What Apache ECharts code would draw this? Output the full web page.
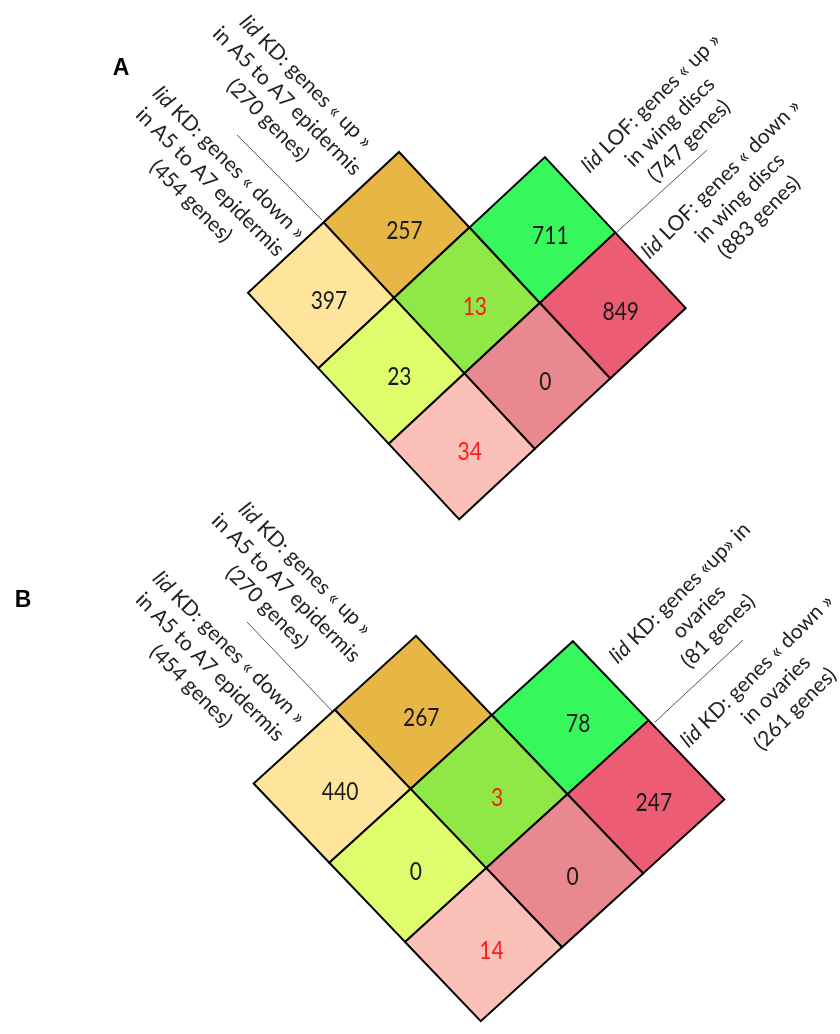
<!DOCTYPE html>
<html>
<head>
<meta charset="utf-8">
<script src="https://cdn.jsdelivr.net/npm/echarts@6/dist/echarts.min.js"></script>
<style>
html,body{margin:0;padding:0;background:#fff;}
#chart{width:840px;height:1034px;}
</style>
</head>
<body>
<div id="chart"></div>
<script>
// ---- data ----
const panelNames = ['A', 'B'];
// grid index of each cell in the rotated grid (i = down-right, j = down-left)
const cellI = [0, 0, 1, 1, 1, 2, 2, 2];
const cellJ = [0, 1, -1, 0, 1, -1, 0, 1];
const valuesA = [257, 397, 711, 13, 23, 849, 0, 34];
const valuesB = [267, 440, 78, 3, 0, 247, 0, 14];
const setLabelsA = [
  ['{i|lid} KD: genes « up »', 'in A5 to A7 epidermis', '(270 genes)'],
  ['{i|lid} KD: genes « down »', 'in A5 to A7 epidermis', '(454 genes)'],
  ['{i|lid} LOF: genes « up »', 'in wing discs', '(747 genes)'],
  ['{i|lid} LOF: genes « down »', 'in wing discs', '(883 genes)']
];
const setLabelsB = [
  ['{i|lid} KD: genes « up »', 'in A5 to A7 epidermis', '(270 genes)'],
  ['{i|lid} KD: genes « down »', 'in A5 to A7 epidermis', '(454 genes)'],
  ['{i|lid} KD: genes «up» in', 'ovaries', '(81 genes)'],
  ['{i|lid} KD: genes « down »', 'in ovaries', '(261 genes)']
];

// ---- styles ----
const cellFill = ['#E8B645', '#FFE59B', '#36F75B', '#8FE845', '#DFFC6C', '#EC5D74', '#E9898F', '#FBC0B8'];
const redText = new Set([3, 7]);
const theta = -2 * Math.PI / 180;
const U = [Math.cos(theta) + Math.sin(theta), Math.sin(theta) - Math.cos(theta)];
const V = [-Math.cos(theta) + Math.sin(theta), -Math.sin(theta) - Math.cos(theta)];
const FONT = 'Lato';
const LFS = 21;

function vtx(i, j) { return [i * U[0] + j * V[0], i * U[1] + j * V[1]]; }

function renderCell(params, api) {
  const i = api.value(0), j = api.value(1), v = api.value(2);
  const idx = params.dataIndex;
  const t = vtx(i, j);
  const r = [t[0] + U[0], t[1] + U[1]];
  const b = [t[0] + U[0] + V[0], t[1] + U[1] + V[1]];
  const l = [t[0] + V[0], t[1] + V[1]];
  const pts = [t, r, b, l].map(p => api.coord(p));
  const cx = (pts[0][0] + pts[1][0] + pts[2][0] + pts[3][0]) / 4;
  const cy = (pts[0][1] + pts[1][1] + pts[2][1] + pts[3][1]) / 4;
  return {
    type: 'group',
    children: [
      { type: 'polygon', shape: { points: pts },
        style: { fill: cellFill[idx], stroke: '#000', lineWidth: 2, lineJoin: 'miter' } },
      { type: 'text', x: cx + 8, y: cy + 6, scaleY: 1.2, z2: 10,
        style: { text: String(v), fill: redText.has(idx) ? '#FF1a1a' : '#1a1a1a',
          fontSize: 21, fontFamily: FONT, align: 'center', verticalAlign: 'middle' } }
    ]
  };
}

function toData(vals) { return vals.map((v, k) => [cellI[k], cellJ[k], v]); }

const richI = { i: { fontStyle: 'italic', fontSize: LFS, fontFamily: FONT, fill: '#222', lineHeight: 27 } };
function labelEl(lines, x, y, rot) {
  return {
    type: 'text', x: x, y: y, rotation: rot,
    style: { text: lines.join('\n'), rich: richI, fontSize: LFS, fontFamily: FONT, fill: '#222',
      align: 'center', verticalAlign: 'middle', lineHeight: 27 }
  };
}
function lineEl(x1, y1, x2, y2) {
  return { type: 'line', shape: { x1, y1, x2, y2 }, style: { stroke: '#555', lineWidth: 1 } };
}
const D = Math.PI / 4;

const option = {
  animation: false,
  grid: [
    { left: 180, top: 152 - 0.6 * 73, width: 8 * 73, height: 5.8 * 73, show: false },
    { left: 416 - 3 * 78.5, top: 637 - 0.6 * 78.5, width: 8 * 78.5, height: 5.8 * 78.5, show: false }
  ],
  xAxis: [
    { type: 'value', gridIndex: 0, min: -3, max: 5, show: false },
    { type: 'value', gridIndex: 1, min: -3, max: 5, show: false }
  ],
  yAxis: [
    { type: 'value', gridIndex: 0, min: -5.2, max: 0.6, show: false },
    { type: 'value', gridIndex: 1, min: -5.2, max: 0.6, show: false }
  ],
  series: [
    { name: panelNames[0], type: 'custom', xAxisIndex: 0, yAxisIndex: 0, renderItem: renderCell,
      encode: { x: 0, y: 1 }, data: toData(valuesA) },
    { name: panelNames[1], type: 'custom', xAxisIndex: 1, yAxisIndex: 1, renderItem: renderCell,
      encode: { x: 0, y: 1 }, data: toData(valuesB) }
  ],
  graphic: [
    { type: 'text', x: 121, y: 69, style: { text: panelNames[0], fontSize: 23, fontWeight: 'bold', fontFamily: 'Liberation Sans', fill: '#000', align: 'center', verticalAlign: 'middle' } },
    { type: 'text', x: 23, y: 601, style: { text: panelNames[1], fontSize: 23, fontWeight: 'bold', fontFamily: 'Liberation Sans', fill: '#000', align: 'center', verticalAlign: 'middle' } },
    labelEl(setLabelsA[0], 287, 101, -D),
    labelEl(setLabelsA[1], 210, 182, -D),
    labelEl(setLabelsA[2], 670, 122, D),
    labelEl(setLabelsA[3], 740, 198, D),
    lineEl(237, 135, 322, 220),
    lineEl(617, 232, 707, 150),
    labelEl(setLabelsB[0], 286, 588, -D),
    labelEl(setLabelsB[1], 210, 667, -D),
    labelEl(setLabelsB[2], 699, 612, D),
    labelEl(setLabelsB[3], 776, 690, D),
    lineEl(247, 622, 333, 712),
    lineEl(655, 722, 743, 640)
  ]
};
const chart = echarts.init(document.getElementById('chart'), null, { renderer: 'canvas' });
chart.setOption(option);
</script>
</body>
</html>
